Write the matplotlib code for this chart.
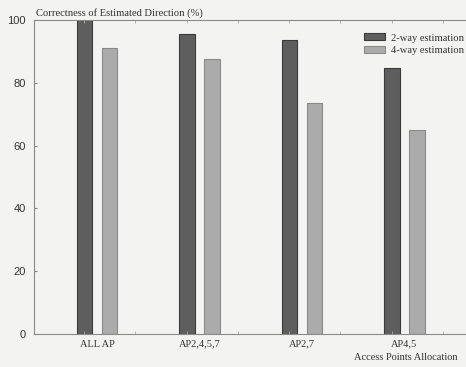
import matplotlib
matplotlib.use("Agg")
import matplotlib.pyplot as plt
import numpy as np

categories = ["ALL AP", "AP2,4,5,7", "AP2,7", "AP4,5"]
two_way = [100.0, 95.5, 93.6, 84.7]
four_way = [91.1, 87.6, 73.6, 65.0]
series_labels = ["2-way estimation", "4-way estimation"]
yticks = [0, 20, 40, 60, 80, 100]

bg = "#f3f3f1"
fig = plt.figure(figsize=(4.66, 3.67), dpi=100, facecolor=bg)
ax = fig.add_axes([34/466, 1-334/367, 1-34/466, (334-20)/367])
ax.set_facecolor(bg)

x = np.arange(len(categories))
w = 0.148
off = 0.122
ax.bar(x - off, two_way, w, color="#5e5e5e", edgecolor="#3a3a3a", linewidth=0.8,
       label=series_labels[0])
ax.bar(x + off, four_way, w, color="#ababab", edgecolor="#8a8a8a", linewidth=0.8,
       label=series_labels[1])

ax.set_xlim(-0.615, 3.6)
ax.set_ylim(0, 100)
ax.set_yticks(yticks)
ax.set_xticks(x)
ax.set_xticklabels(categories, family="Liberation Serif", fontsize=7.5, color="#333333")
ax.set_xticks(np.arange(-0.125, 3.6, 0.5), minor=True)
for lab in ax.get_yticklabels():
    lab.set_family("Liberation Sans")
    lab.set_fontsize(8)
    lab.set_color("#333333")
ax.tick_params(axis="y", direction="in", length=2, pad=6, color="#888888")
ax.tick_params(axis="x", which="major", length=0, pad=4)
ax.tick_params(axis="x", which="minor", direction="in", length=2, color="#aaaaaa",
               top=True, bottom=True)

for s in ["left", "bottom", "top"]:
    ax.spines[s].set_color("#8a8a8a")
    ax.spines[s].set_linewidth(0.8)
ax.spines["right"].set_visible(False)

fig.text(36/466, 1-13/367, "Correctness of Estimated Direction (%)",
         family="Liberation Serif", fontsize=7.6, color="#333333", va="center", ha="left")
fig.text(406/466, 1-358/367, "Access Points Allocation",
         family="Liberation Serif", fontsize=7.5, color="#333333", va="center", ha="center")

leg = ax.legend(loc="upper left", bbox_to_anchor=(357/466, 1-26/367),
                bbox_transform=fig.transFigure,
                frameon=False, prop={"family": "Liberation Serif", "size": 7.6},
                handlelength=2.0, handleheight=0.65, handletextpad=0.5,
                labelspacing=0.3, borderpad=0.2)
for t in leg.get_texts():
    t.set_color("#333333")

fig.savefig("out.png", dpi=100, facecolor=bg)
